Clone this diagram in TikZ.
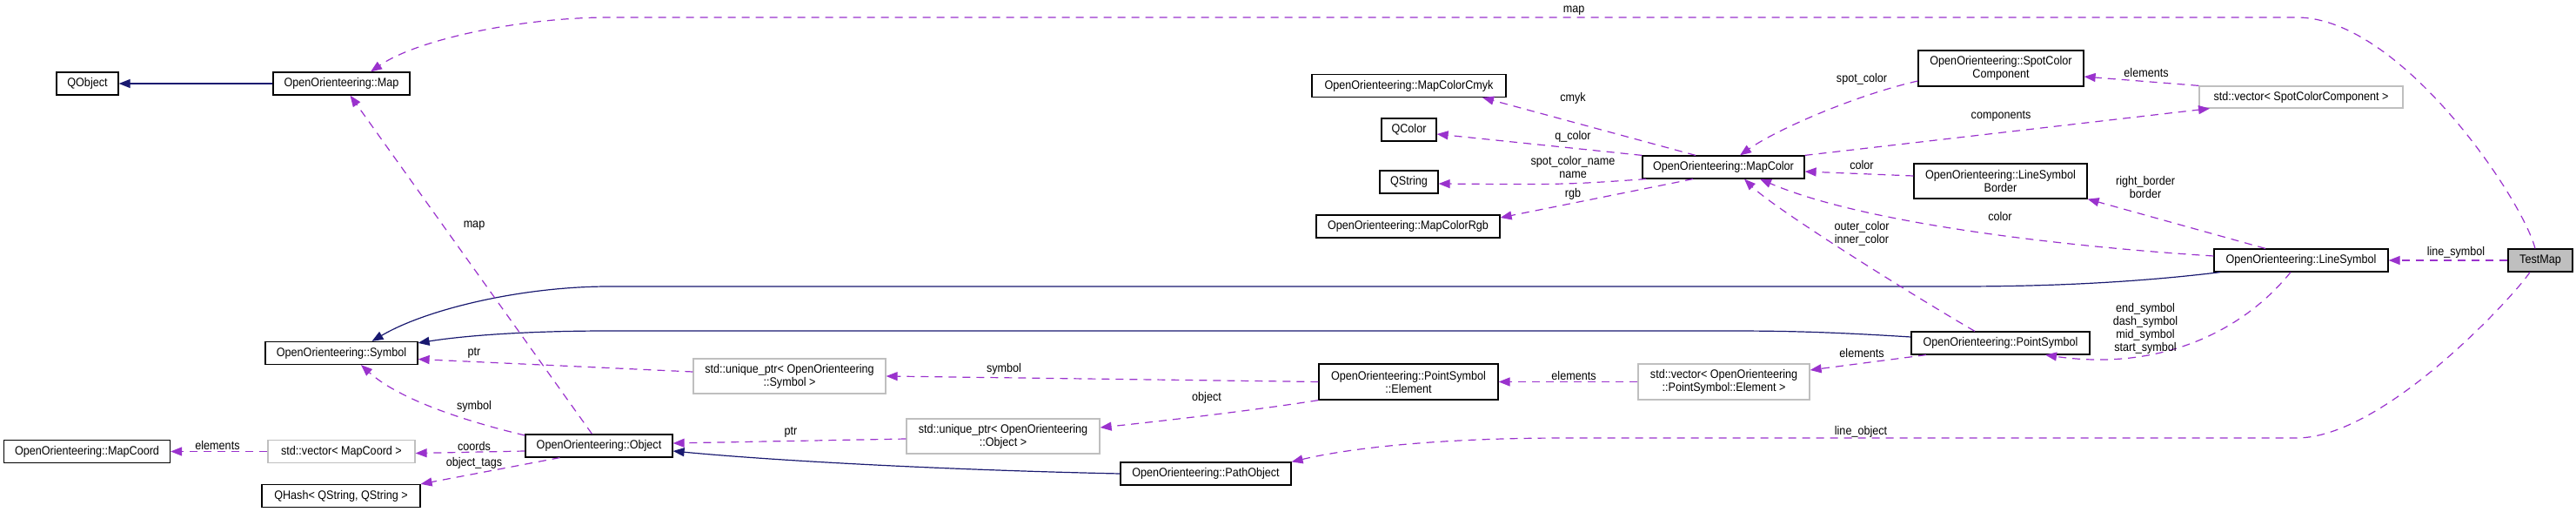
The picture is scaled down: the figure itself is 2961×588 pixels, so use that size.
\documentclass[tikz,border=0pt]{standalone}
\usepackage{fontspec}
\setmainfont{Liberation Sans}[FakeStretch=0.9]
\usetikzlibrary{arrows.meta}
\definecolor{edgepurple}{HTML}{9A32CD}
\definecolor{inhblue}{HTML}{191970}
\definecolor{tmplgray}{HTML}{BFBFBF}
\begin{document}
\begin{tikzpicture}[x=1pt,y=-1pt,
  box/.style={draw=black, line width=1.2pt, inner sep=0pt, align=center,
    font=\fontsize{14}{15}\selectfont},
  tbox/.style={box, draw=tmplgray},
  dep/.style={draw=edgepurple, line width=1.2pt, dash pattern=on 9pt off 7pt,
    -{Triangle[length=13pt,width=10pt]}},
  inh/.style={draw=inhblue, line width=1.2pt, -{Triangle[length=13pt,width=10pt]}},
  lbl/.style={font=\fontsize{14}{15}\selectfont, align=center, inner sep=0pt}]
\useasboundingbox (0,0) rectangle (2961,588);

% nodes
\node[box, minimum width=71pt, minimum height=26pt] (QObject) at (100.5,96) {QObject};
\node[box, minimum width=157pt, minimum height=26pt] (Map) at (392.5,96) {OpenOrienteering::Map};
\node[box, minimum width=175pt, minimum height=26pt] (Symbol) at (392.5,405.5) {OpenOrienteering::Symbol};
\node[box, minimum width=191pt, minimum height=26pt] (MapCoord) at (100,518.5) {OpenOrienteering::MapCoord};
\node[tbox, minimum width=169pt, minimum height=26pt] (vecMapCoord) at (392.5,518.5) {std::vector< MapCoord >};
\node[box, minimum width=182pt, minimum height=26pt] (QHash) at (392,569.5) {QHash< QString, QString >};
\node[box, minimum width=169pt, minimum height=26pt] (Object) at (688.5,512) {OpenOrienteering::Object};
\node[tbox, minimum width=221pt, minimum height=40pt] (uptrSymbol) at (907.5,432) {std::unique\_ptr< OpenOrienteering\\::Symbol >};
\node[tbox, minimum width=222pt, minimum height=40pt] (uptrObject) at (1153,501) {std::unique\_ptr< OpenOrienteering\\::Object >};
\node[box, minimum width=196pt, minimum height=26pt] (PathObject) at (1386,544) {OpenOrienteering::PathObject};
\node[box, minimum width=206pt, minimum height=41pt] (PSElement) at (1619,438.5) {OpenOrienteering::PointSymbol\\::Element};
\node[tbox, minimum width=197pt, minimum height=41pt] (vecPSElement) at (1981.5,438.5) {std::vector< OpenOrienteering\\::PointSymbol::Element >};
\node[box, minimum width=205pt, minimum height=26pt] (PointSymbol) at (2299.5,394) {OpenOrienteering::PointSymbol};
\node[box, minimum width=223pt, minimum height=26pt] (Cmyk) at (1619.5,98.5) {OpenOrienteering::MapColorCmyk};
\node[box, minimum width=63pt, minimum height=26pt] (QColor) at (1619.5,149) {QColor};
\node[box, minimum width=67pt, minimum height=26pt] (QString) at (1619.5,209) {QString};
\node[box, minimum width=211pt, minimum height=26pt] (Rgb) at (1618.5,260) {OpenOrienteering::MapColorRgb};
\node[box, minimum width=186pt, minimum height=26pt] (MapColor) at (1981,192) {OpenOrienteering::MapColor};
\node[box, minimum width=190pt, minimum height=41pt] (SpotColor) at (2300,78.5) {OpenOrienteering::SpotColor\\Component};
\node[tbox, minimum width=234pt, minimum height=25pt] (vecSpot) at (2645,111.5) {std::vector< SpotColorComponent >};
\node[box, minimum width=199pt, minimum height=40pt] (Border) at (2299.5,208) {OpenOrienteering::LineSymbol\\Border};
\node[box, minimum width=200pt, minimum height=26pt] (LineSymbol) at (2645,299) {OpenOrienteering::LineSymbol};
\node[box, fill=tmplgray, minimum width=74pt, minimum height=26pt] (TestMap) at (2920,299) {TestMap};

% inheritance
\draw[inh] (Map.west) -- (QObject.east);
\draw[inh] ([xshift=-93pt]LineSymbol.south) .. controls (2450,325) and (2350,329) .. (2250,329)
  -- (700,329) .. controls (600,329) and (490,355) .. ([xshift=35pt]Symbol.north);
\draw[inh] ([yshift=7pt]PointSymbol.west) .. controls (2100,381) and (2050,380) .. (1985,380)
  -- (700,380) .. controls (600,380) and (530,386) .. ([yshift=-2pt]Symbol.north east);
\draw[inh] (PathObject.west) .. controls (1100,540) and (900,530) .. ([yshift=-6pt]Object.east);

% dependencies
\draw[dep] ([xshift=-6pt]TestMap.north) .. controls (2900,230) and (2760,20) .. (2640,20)
  -- (700,20) .. controls (600,20) and (480,45) .. ([xshift=33.5pt]Map.north);
\draw[dep] (TestMap.west) -- (LineSymbol.east);
\draw[dep] ([xshift=-12pt]TestMap.south) .. controls (2890,340) and (2740,503) .. (2640,503)
  -- (1800,503) .. controls (1650,503) and (1550,515) .. (PathObject.north east);
\draw[dep] ([xshift=-8pt]Object.north) -- ([xshift=10pt]Map.south);
\draw[dep] ([yshift=12pt]Object.west) .. controls (540,485) and (460,460) .. ([xshift=22.5pt]Symbol.south);
\draw[dep] ([yshift=-6pt]Object.west) -- ([yshift=-2pt]vecMapCoord.east);
\draw[dep] ([xshift=-45pt]Object.south) -- (QHash.north east);
\draw[dep] (vecMapCoord.west) -- (MapCoord.east);
\draw[dep] ([yshift=5pt]uptrSymbol.west) -- ([yshift=-7pt]Symbol.east);
\draw[dep] ([yshift=-3pt]uptrObject.west) -- ([yshift=3pt]Object.east);
\draw[dep] (PSElement.west) -- (uptrSymbol.east);
\draw[dep] (PSElement.south west) .. controls (1450,470) and (1350,482) .. ([yshift=10pt]uptrObject.east);
\draw[dep] (vecPSElement.west) -- (PSElement.east);
\draw[dep] ([xshift=-85.5pt]PointSymbol.south) -- ([yshift=13.5pt]vecPSElement.east);
\draw[dep] ([xshift=-29.5pt]PointSymbol.north) .. controls (2200,340) and (2040,240) .. ([xshift=24pt]MapColor.south);
\draw[dep] ([yshift=5pt]LineSymbol.west) .. controls (2400,285) and (2150,260) .. ([xshift=42pt]MapColor.south);
\draw[dep] ([xshift=-41pt]LineSymbol.north) -- (Border.south east);
\draw[dep] ([xshift=-12pt]LineSymbol.south) .. controls (2570,390) and (2470,425) .. ([xshift=51.5pt]PointSymbol.south);
\draw[dep] ([yshift=6pt]Border.west) -- ([yshift=-5pt]MapColor.east);
\draw[dep] ([xshift=-32pt]MapColor.north) -- ([xshift=84.5pt]Cmyk.south);
\draw[dep] (MapColor.north west) -- ([yshift=-5pt]QColor.east);
\draw[dep] ([xshift=5pt]MapColor.south west) .. controls (1800,212) .. ([yshift=-2pt]QString.east);
\draw[dep] ([xshift=-35pt]MapColor.south) -- ([yshift=10pt]Rgb.east);
\draw[dep] (MapColor.north east) -- ([xshift=-105pt]vecSpot.south);
\draw[dep] (vecSpot.north west) -- ([yshift=-9.5pt]SpotColor.east);
\draw[dep] ([yshift=-14.5pt]SpotColor.west) .. controls (2130,110) and (2040,150) .. ([xshift=19pt]MapColor.north);

% labels
\node[lbl] (l1) at (1809,12) {map};
\node[lbl] (l2) at (2823,290) {line\_symbol};
\node[lbl] (l3) at (2139,496) {line\_object};
\node[lbl] (l4) at (545,259) {map};
\node[lbl] (l5) at (545,467) {symbol};
\node[lbl] (l6) at (545,512) {coords};
\node[lbl] (l7) at (545,532) {object\_tags};
\node[lbl] (l8) at (250,511) {elements};
\node[lbl] (l9) at (545,405) {ptr};
\node[lbl] (l10) at (909,496) {ptr};
\node[lbl] (l11) at (1154,424) {symbol};
\node[lbl] (l12) at (1387,457) {object};
\node[lbl] (l13) at (1809,431) {elements};
\node[lbl] (l14) at (2140,405) {elements};
\node[lbl] (l15) at (2140,268.5) {outer\_color\\inner\_color};
\node[lbl] (l16) at (2299,248) {color};
\node[lbl] (l17) at (2466,215) {right\_border\\border};
\node[lbl] (l18) at (2466,377) {end\_symbol\\dash\_symbol\\mid\_symbol\\start\_symbol};
\node[lbl] (l19) at (2140,189) {color};
\node[lbl] (l20) at (1808,113) {cmyk};
\node[lbl] (l21) at (1808,157) {q\_color};
\node[lbl] (l22) at (1808,192) {spot\_color\_name\\name};
\node[lbl] (l23) at (1808,223) {rgb};
\node[lbl] (l24) at (2300,133) {components};
\node[lbl] (l25) at (2467,83) {elements};
\node[lbl] (l26) at (2140,91) {spot\_color};
\end{tikzpicture}
\end{document}
